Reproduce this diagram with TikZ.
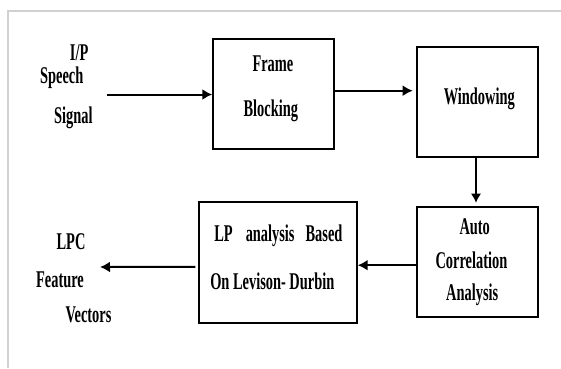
\documentclass[tikz,border=0pt]{standalone}
\usepackage{fontspec}
\setmainfont{Liberation Serif}[FakeStretch=0.6]
\usetikzlibrary{arrows.meta}

\begin{document}
\begin{tikzpicture}[x=1pt,y=-1pt,
  blk/.style={draw,line width=2pt,inner sep=0pt},
  txt/.style={anchor=base,inner sep=0pt,font=\bfseries\fontsize{24}{24}\selectfont},
  arr/.style={line width=2pt,-{Latex[length=10pt,width=11pt]}}]

\useasboundingbox (0,0) rectangle (561,368);
\draw[black!18,line width=2pt] (8,368) -- (8,11) -- (561,11);

\node[blk,minimum width=121pt,minimum height=110pt] (fb) at (273.8,94.2) {};
\node[blk,minimum width=121.6pt,minimum height=110pt] (win) at (477.5,101.7) {};
\node[blk,minimum width=121.6pt,minimum height=110pt] (ac) at (477.5,261.7) {};
\node[blk,minimum width=157.4pt,minimum height=121pt] (lp) at (278,262.8) {};

\node[txt] (ip) at (79.1,60) {I/P};
\node[txt] (speech) at (61.7,83.3) {Speech};
\node[txt] (signal) at (73.4,123.5) {Signal};

\node[txt] (frame) at (272.9,71) {Frame};
\node[txt] (blocking) at (270.8,116.7) {Blocking};
\node[txt] (windowing) at (479.3,104) {Windowing};

\node[txt] (auto) at (474.7,234) {Auto};
\node[txt] (corr) at (471.4,268.3) {Correlation};
\node[txt] (anal) at (472.2,300.7) {Analysis};

\node[txt] (lpline) at (278.4,241.7) {LP\hspace{13pt}analysis\hspace{11pt}Based};
\node[txt] (onlev) at (272.3,289) {On Levison- Durbin};

\node[txt] (lpc) at (71,249) {LPC};
\node[txt] (feature) at (60,287.5) {Feature};
\node[txt] (vectors) at (88.5,322.5) {Vectors};

\coordinate (in) at (107,94.5);
\coordinate (out) at (100,267);

\draw[arr] (in) -- (in -| fb.west);
\draw[arr,shorten >=3pt] ([yshift=3.5pt]fb.east) -- ([yshift=3.5pt]fb.east -| win.west);
\draw[line width=1.2pt,-{Latex[length=9pt,width=10pt]},shorten >=3pt] ([xshift=-1.5pt,yshift=2pt]win.south) -- ([xshift=-1.5pt]ac.north);
\draw[arr] ([yshift=-3.5pt]ac.west) -- ([yshift=-3.5pt]ac.west -| lp.east);
\draw[arr,shorten <=3pt] ([yshift=-4pt]lp.west) -- (out);

\end{tikzpicture}
\end{document}
